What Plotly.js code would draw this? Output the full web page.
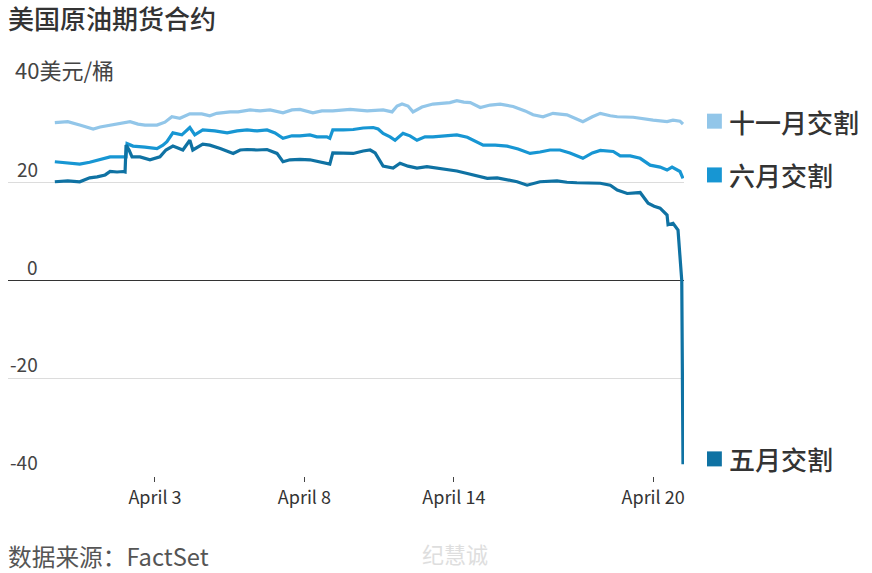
<!DOCTYPE html>
<html>
<head>
<meta charset="utf-8">
<script src="https://cdn.plot.ly/plotly-3.0.1.min.js"></script>
<style>
  html, body { margin: 0; padding: 0; background: #fff; }
  #chart { width: 872px; height: 573px; }
</style>
</head>
<body>
<div id="chart"></div>
<script>
// x = position in trading days relative to April 3 (0 = April 3, 10 = April 20)
var tickDays = [0, 3, 6, 10];
var tickLabels = ["April 3", "April 8", "April 14", "April 20"];

// 十一月交割 (November delivery), USD / barrel
var novX = [-2.01,-1.75,-1.51,-1.24,-1.10,-0.86,-0.66,-0.50,-0.34,-0.20,0.04,0.20,0.34,0.50,0.70,0.94,1.10,1.24,1.51,1.67,1.91,2.11,2.31,2.57,2.75,2.91,3.17,3.35,3.57,3.92,4.26,4.58,4.76,4.86,4.96,5.08,5.18,5.36,5.58,5.92,6.06,6.20,6.33,6.53,6.73,6.93,7.19,7.43,7.59,7.79,7.99,8.27,8.43,8.59,8.78,8.94,9.14,9.28,9.60,9.84,10.00,10.28,10.40,10.54,10.60];
var novY = [32.3,32.5,31.8,31.0,31.4,31.8,32.2,32.5,32.0,31.8,31.8,32.4,33.5,33.2,34.1,34.1,33.7,34.2,34.5,34.5,34.9,34.7,34.9,34.3,34.9,35.0,34.3,34.7,34.7,35.0,34.7,34.9,34.5,35.7,36.1,35.7,34.5,35.5,36.1,36.4,36.8,36.5,36.4,35.4,35.9,36.1,35.6,34.7,33.9,33.5,34.2,33.9,33.2,32.5,33.5,34.2,33.7,33.5,33.4,33.0,32.8,32.5,32.8,32.6,32.0];

// 六月交割 (June delivery)
var junX = [-2.01,-1.75,-1.51,-1.31,-1.10,-0.90,-0.76,-0.64,-0.58,-0.56,-0.44,-0.20,0.04,0.16,0.24,0.36,0.46,0.54,0.70,0.80,0.96,1.20,1.45,1.65,1.85,2.05,2.25,2.41,2.57,2.75,2.91,3.11,3.25,3.45,3.51,3.57,3.78,3.98,4.18,4.38,4.48,4.58,4.72,4.82,4.98,5.12,5.26,5.42,5.58,5.82,6.06,6.27,6.43,6.59,6.83,7.07,7.29,7.53,7.73,7.93,8.13,8.33,8.59,8.78,8.94,9.20,9.34,9.54,9.74,9.94,10.14,10.28,10.38,10.54,10.60];
var junY = [24.3,24.0,23.8,24.2,24.7,25.3,25.3,25.3,25.3,28.0,27.5,27.3,27.0,27.7,28.4,30.2,30.0,29.8,31.3,29.8,30.8,30.6,30.2,30.6,30.8,30.6,30.8,30.2,29.1,29.6,29.6,29.8,29.4,29.4,29.1,30.8,30.8,30.9,31.2,31.3,31.0,30.1,29.4,28.7,30.1,29.6,28.7,29.4,29.4,29.6,29.8,29.3,28.5,27.7,27.7,27.5,26.9,26.0,26.3,26.7,26.7,26.1,25.0,26.1,26.6,26.4,25.5,25.5,25.0,23.6,23.2,22.6,23.2,22.3,20.9];

// 五月交割 (May delivery)
var mayX = [-2.01,-1.75,-1.51,-1.31,-1.16,-1.00,-0.90,-0.76,-0.64,-0.60,-0.58,-0.52,-0.46,-0.30,-0.10,0.10,0.22,0.36,0.46,0.56,0.70,0.76,0.96,1.10,1.31,1.57,1.71,1.85,2.05,2.25,2.45,2.57,2.71,2.91,3.11,3.31,3.51,3.57,3.78,3.98,4.18,4.32,4.42,4.58,4.78,4.92,5.08,5.26,5.46,5.66,5.86,6.06,6.27,6.47,6.67,6.87,7.07,7.27,7.47,7.73,8.07,8.27,8.47,8.73,8.94,9.14,9.28,9.48,9.74,9.90,10.02,10.14,10.28,10.30,10.40,10.50,10.575,10.60];
var mayY = [20.2,20.4,20.2,21.0,21.2,21.6,22.3,22.2,22.3,22.2,27.7,26.7,25.3,25.3,24.7,25.3,26.7,27.5,27.1,26.7,28.7,26.7,27.9,27.7,27.0,26.0,26.7,26.8,26.7,26.8,26.0,24.3,24.7,24.8,24.7,24.3,23.8,26.1,26.1,26.0,26.5,26.7,26.1,23.4,23.0,24.0,23.4,23.0,23.3,23.0,22.8,22.4,21.9,21.4,20.9,21.0,20.6,20.2,19.5,20.2,20.4,20.1,20.0,19.9,19.9,19.5,18.5,17.8,18.0,15.8,15.2,14.8,13.4,11.4,11.7,10.3,0.0,-37.6];

var seriesNames = ["十一月交割", "六月交割", "五月交割"];
var seriesColors = ["#92c6e9", "#1796d3", "#0f72a3"];
var labelValues = [32.6, 21.6, -36.5];

var yTickVals = [40, 20, 0, -20, -40];
var yTickText = ["40美元/桶", "20", "0", "-20", "-40"];

var FONT = "Noto Sans CJK SC, Noto Sans, sans-serif";

var traces = [
  {x: novX, y: novY, name: seriesNames[0], color: seriesColors[0]},
  {x: junX, y: junY, name: seriesNames[1], color: seriesColors[1]},
  {x: mayX, y: mayY, name: seriesNames[2], color: seriesColors[2]}
].map(function (s) {
  return {
    type: "scatter", mode: "lines", x: s.x, y: s.y, name: s.name,
    line: {color: s.color, width: 3.2, shape: "linear"},
    hoverinfo: "x+y+name"
  };
});

var annotations = [];
// y axis labels (WSJ style, above gridlines)
yTickVals.forEach(function (v, i) {
  if (i === 0) {
    annotations.push({xref: "paper", yref: "y", x: 0.0074, y: v, xanchor: "left", yanchor: "bottom",
      text: yTickText[i], showarrow: false, font: {family: FONT, size: 22, color: "#444"}, yshift: -2});
  } else {
    annotations.push({xref: "paper", yref: "y", x: 0.0473, y: v, xanchor: "right", yanchor: "bottom",
      text: yTickText[i], showarrow: false, font: {family: FONT, size: 19, color: "#444"}, yshift: -1});
  }
});
// series labels at right
var shapes = [];
seriesNames.forEach(function (n, i) {
  annotations.push({xref: "paper", yref: "y", x: 1.064, y: labelValues[i], xanchor: "left", yanchor: "middle",
    text: n, showarrow: false, font: {family: FONT, size: 26, color: "#333", weight: 500}});
  shapes.push({type: "rect", xref: "paper", yref: "y", x0: 1.034, x1: 1.056,
    ysizemode: "pixel", yanchor: labelValues[i], y0: -7.5, y1: 7.5,
    fillcolor: seriesColors[i], line: {width: 0}});
});
// source
annotations.push({xref: "paper", yref: "paper", x: -0.003, y: -0.2046, xanchor: "left", yanchor: "middle",
  text: "数据来源：FactSet", showarrow: false, font: {family: FONT, size: 23.7, color: "#555"}});
// watermark
annotations.push({xref: "paper", yref: "paper", x: 0.61, y: -0.197, xanchor: "left", yanchor: "middle",
  text: "纪慧诚", showarrow: false, font: {family: FONT, size: 22, color: "#dedede"}});

var layout = {
  width: 872, height: 573,
  margin: {l: 8, r: 188, t: 85, b: 97},
  paper_bgcolor: "#fff", plot_bgcolor: "#fff",
  showlegend: false,
  font: {family: FONT, color: "#333"},
  title: {text: "美国原油期货合约", x: 0.0092, xref: "container", xanchor: "left",
          y: 0.9660, yref: "container", yanchor: "middle",
          font: {family: FONT, size: 26, color: "#333", weight: 500}},
  xaxis: {
    range: [-2.95, 10.62], showgrid: false, zeroline: false, showline: false,
    tickmode: "array", tickvals: tickDays, ticktext: tickLabels,
    ticks: "outside", ticklen: 5, tickwidth: 1, tickcolor: "#444",
    tickfont: {family: FONT, size: 18, color: "#333"}, fixedrange: true
  },
  yaxis: {
    range: [-40, 40], tickmode: "array", tickvals: yTickVals, showticklabels: false,
    showgrid: true, gridcolor: "#dcdcdc", gridwidth: 1,
    zeroline: true, zerolinecolor: "#333", zerolinewidth: 1.5,
    showline: false, ticks: "", fixedrange: true
  },
  annotations: annotations,
  shapes: shapes
};

Plotly.newPlot("chart", traces, layout, {displayModeBar: false, staticPlot: true});
</script>
</body>
</html>
